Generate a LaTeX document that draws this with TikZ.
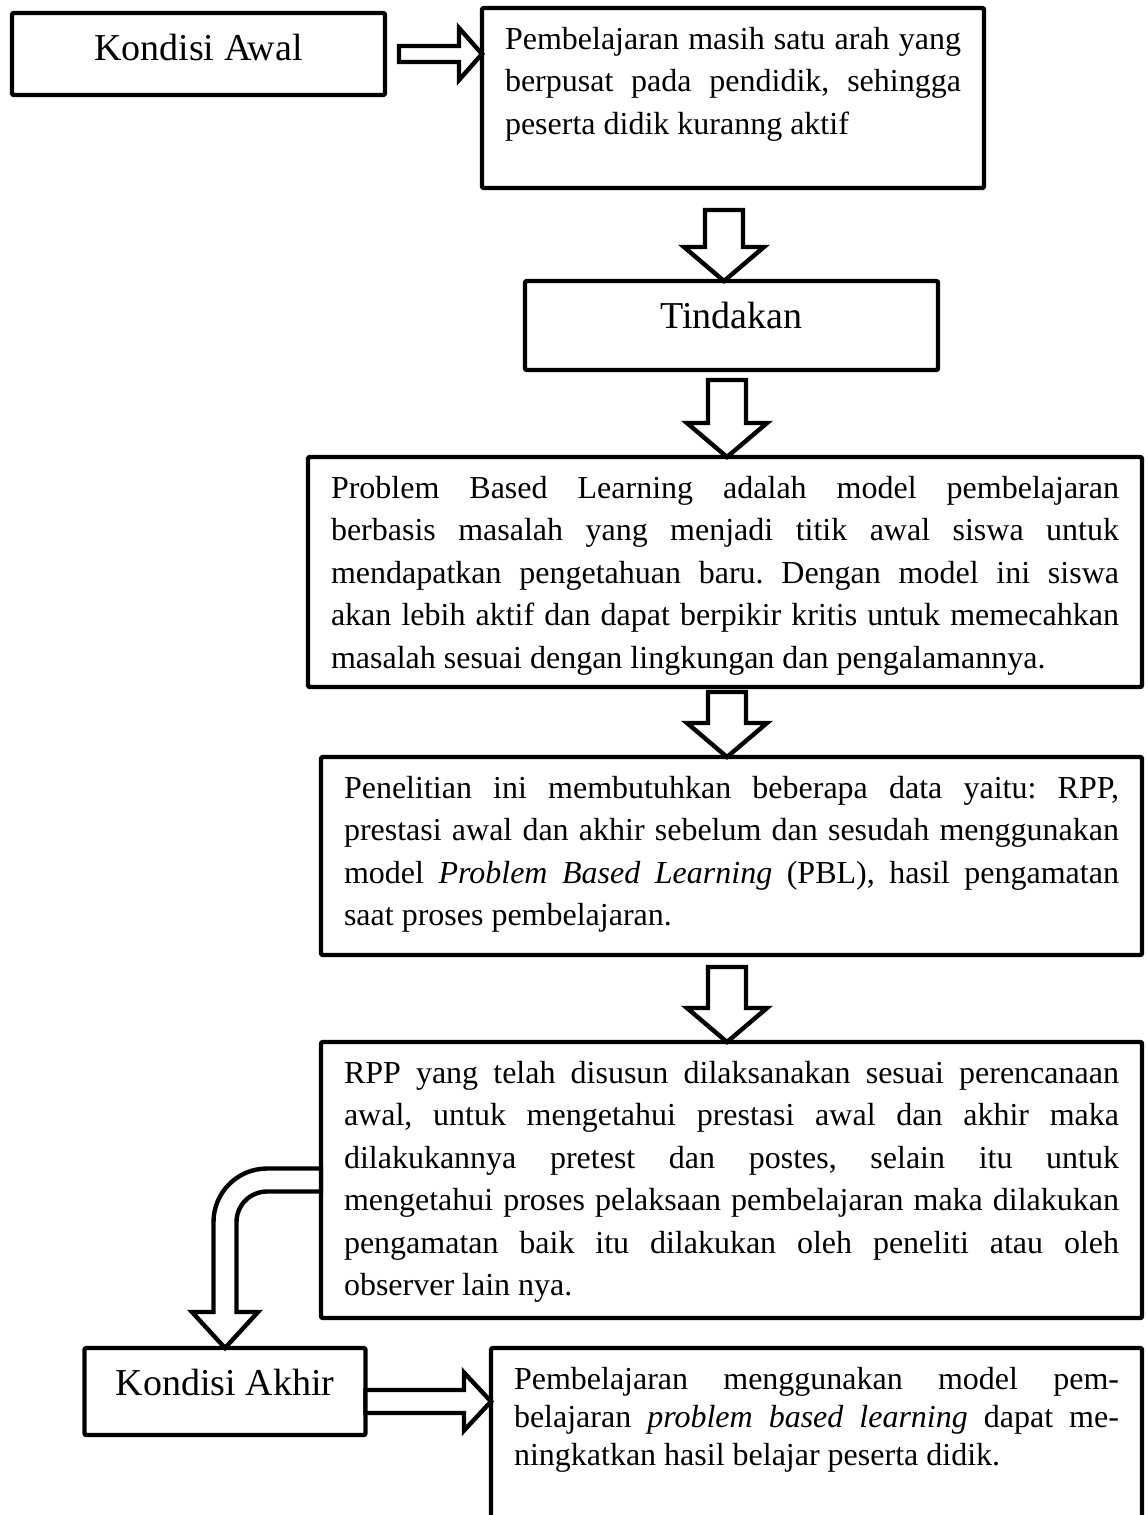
\documentclass[tikz,border=0pt]{standalone}
\usepackage{fontspec}
\setmainfont{Liberation Serif}
\usetikzlibrary{calc}
\hyphenpenalty=10000
\tolerance=10000
\frenchspacing

\begin{document}
\begin{tikzpicture}[x=0.5pt, y=-0.5pt]
            \tikzstyle{box}=[draw, line width=2.2pt, rounded corners=1pt,
            anchor=north west, inner sep=0pt, outer sep=0pt]
            \tikzstyle{title}=[box, font=\fontsize{19}{23}\selectfont,
            text height=13pt, text depth=6pt]
            \tikzstyle{txtbox}=[box, inner xsep=11.5pt, inner ysep=8.5pt,
            text height=12pt, align=justify, font=\fontsize{16}{21.25}\selectfont]
            \tikzstyle{blockarr}=[draw, line width=2.2pt, fill=white, line join=miter]
            \tikzset{downarr/.style={blockarr, to path={
              ($(\tikztostart)+(-19,0)$) -- ($(\tikztostart)+(19,0)$)
              -- ($(\tikztotarget)+(19,-34)$) -- ($(\tikztotarget)+(40,-34)$)
              -- (\tikztotarget) -- ($(\tikztotarget)+(-40,-34)$)
              -- ($(\tikztotarget)+(-19,-34)$) -- cycle}},
              rightarr/.style n args={3}{blockarr, to path={
              ($(\tikztostart)+(0,-#1)$) -- ($(\tikztotarget)+(-#3,-#1)$)
              -- ($(\tikztotarget)+(-#3,-#2)$) -- (\tikztotarget)
              -- ($(\tikztotarget)+(-#3,#2)$) -- ($(\tikztotarget)+(-#3,#1)$)
              -- ($(\tikztostart)+(0,#1)$) -- cycle}}}
            \clip (0,0) rectangle (1147,1515);

            \node[title, minimum width=186.5pt, minimum height=41pt] (awal) at (12,13) {Kondisi Awal};
            \node[txtbox, text width=228pt, text depth=61pt] (masih) at (482,8)
            {Pembelajaran masih satu arah yang\linebreak
            berpusat pada pendidik, sehingga\linebreak
            peserta didik kuranng aktif};
            \node[title, minimum width=206.5pt, minimum height=44.5pt,
            text depth=10pt] (tindakan) at (525,281) {Tindakan};
            \node[txtbox, text width=394pt, text depth=86pt] (pbl) at (308,457)
            {Problem Based Learning adalah model pembelajaran\linebreak
            berbasis masalah yang menjadi titik awal siswa untuk\linebreak
            mendapatkan pengetahuan baru. Dengan model ini siswa\linebreak
            akan lebih aktif dan dapat berpikir kritis untuk memecahkan\linebreak
            masalah sesuai dengan lingkungan dan pengalamannya.};
            \node[txtbox, text width=387.5pt, text depth=70pt] (data) at (321,757)
            {Penelitian ini membutuhkan beberapa data yaitu: RPP,\linebreak
            prestasi awal dan akhir sebelum dan sesudah menggunakan\linebreak
            model \textit{Problem Based Learning} (PBL), hasil pengamatan\linebreak
            saat proses pembelajaran.};
            \node[txtbox, text width=387.5pt, text depth=109pt] (rpp) at (321,1042)
            {RPP yang telah disusun dilaksanakan sesuai perencanaan\linebreak
            awal, untuk mengetahui prestasi awal dan akhir maka\linebreak
            dilakukannya pretest dan postes, selain itu untuk\linebreak
            mengetahui proses pelaksaan pembelajaran maka dilakukan\linebreak
            pengamatan baik itu dilakukan oleh peneliti atau oleh\linebreak
            observer lain nya.};
            \node[title, minimum width=140.5pt, minimum height=43.5pt,
            text depth=9.5pt] (akhir) at (84.5,1348) {Kondisi Akhir};
            \node[txtbox, text width=302.5pt, text depth=71pt,
            font=\fontsize{16}{19}\selectfont] (hasil) at (491,1348)
            {Pembelajaran menggunakan model pem-\linebreak
            belajaran \textit{problem based learning} dapat me-\linebreak
            ningkatkan hasil belajar peserta didik.};

            % block arrows
            \coordinate (d1) at (724,210);
            \coordinate (d2) at (727,380);
            \coordinate (d3) at (727,692);
            \coordinate (d4) at (727,967);
            \foreach \s/\t in {d1/tindakan, d2/pbl, d3/data, d4/rpp}
            \draw[downarr] (\s) to (\s |- \t.north);

            \coordinate (r1) at ($(awal.east)+(14,0)$);
            \draw[rightarr={8}{26}{23}] (r1) to (r1 -| masih.west);
            \coordinate (r2) at ($(akhir.east)+(0,10)$);
            \draw[rightarr={11.5}{29}{27}] (r2) to (r2 -| hasil.west);

            \draw[blockarr] ($(rpp.west)+(0,-11.5)$) -- ++(-54,0)
            arc[start angle=90, end angle=180, radius=26.75pt] -- ++(0,90)
            -- ++(-21.5,0) -- (akhir.north) -- ++(33,-36) -- ++(-21.5,0)
            -- ++(0,-90) arc[start angle=180, end angle=90, radius=15.25pt]
            -- ($(rpp.west)+(0,11.5)$) -- cycle;
        \end{tikzpicture}
\end{document}
